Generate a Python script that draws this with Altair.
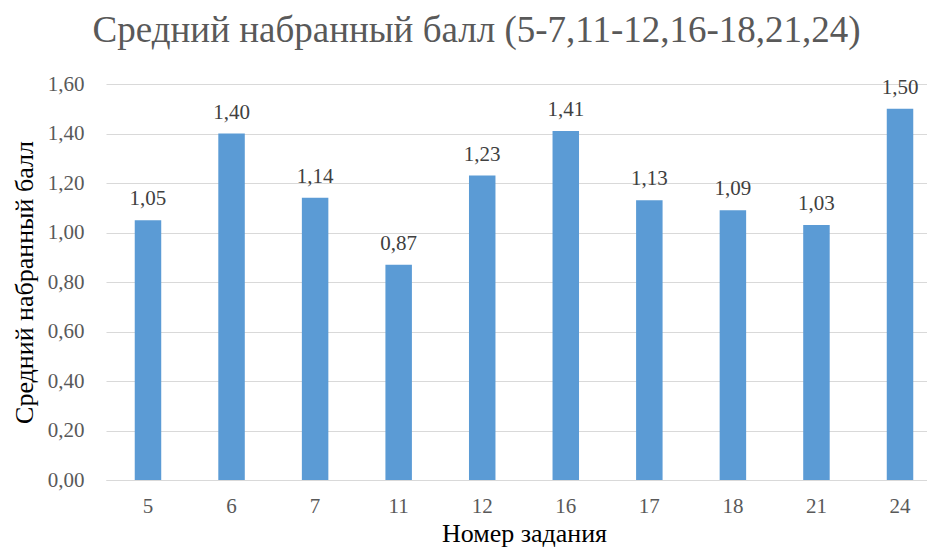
import altair as alt
import pandas as pd

tasks = ["5", "6", "7", "11", "12", "16", "17", "18", "21", "24"]
scores = [1.05, 1.40, 1.14, 0.87, 1.23, 1.41, 1.13, 1.09, 1.03, 1.50]
y_ticks = [0, 0.2, 0.4, 0.6, 0.8, 1.0, 1.2, 1.4, 1.6]

df = pd.DataFrame({"task": tasks, "score": scores})

FONT = "Liberation Serif"

base = alt.Chart(df).transform_calculate(
    lbl="replace(format(datum.score, '.2f'), '.', ',')"
)

xscale = alt.Scale(range=[0, 836], paddingInner=0.683, paddingOuter=0.344)

bars = base.mark_bar(color="#5B9BD5").encode(
    x=alt.X("task:N", sort=tasks, scale=xscale,
            axis=alt.Axis(title="Номер задания", labelAngle=0, ticks=False,
                          domainColor="#d9d9d9", labelPadding=15,
                          titlePadding=4)),
    y=alt.Y("score:Q", scale=alt.Scale(domain=[0, 1.6]),
            axis=alt.Axis(title="Средний набранный балл", values=y_ticks,
                          labelExpr="replace(format(datum.value, '.2f'), '.', ',')",
                          ticks=False, domain=False, gridColor="#d9d9d9",
                          labelPadding=22, titlePadding=10)),
)

labels = base.mark_text(dy=-21, font=FONT, fontSize=21, color="#404040").encode(
    x=alt.X("task:N", sort=tasks, scale=xscale),
    y="score:Q",
    text="lbl:N",
)

chart = (bars + labels).properties(
    width=821, height=396,
    autosize=alt.AutoSizeParams(type="none"),
    padding={"left": 98, "top": 76, "right": 0, "bottom": 68},
    title=alt.TitleParams("Средний набранный балл (5-7,11-12,16-18,21,24)",
                          font=FONT, fontSize=37, fontWeight="normal",
                          color="#595959", offset=23, frame="bounds",
                          anchor="middle"),
).configure_axis(
    labelFont=FONT, labelFontSize=21, labelColor="#595959",
    titleFont=FONT, titleFontSize=26, titleFontWeight="normal", titleColor="#000000",
).configure_view(stroke=None)

chart.save("out.html", embed_options={"renderer": "svg", "actions": False})
